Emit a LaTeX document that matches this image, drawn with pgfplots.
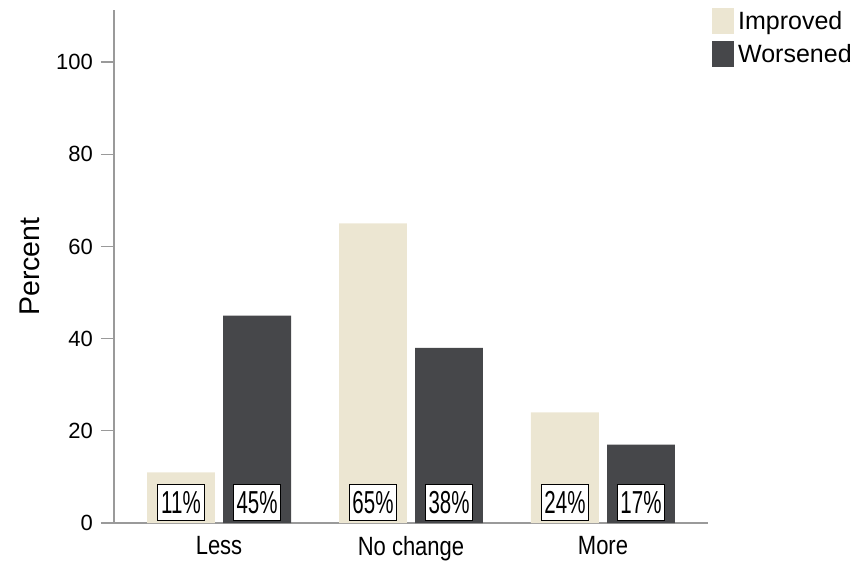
\documentclass[border=0pt]{standalone}
\usepackage{pgfplots}
\pgfplotsset{compat=1.18}
\usepackage{fontspec}
\setmainfont{Liberation Sans}
\definecolor{impr}{HTML}{ECE6D2}
\definecolor{wors}{HTML}{46474A}
\definecolor{axgray}{HTML}{9A9A9A}
\tikzset{boxlab/.style={draw=black, line width=0.8bp, fill=white, text=black, anchor=south, font=\fontsize{20.5bp}{24bp}\selectfont, inner sep=0pt, minimum width=47bp, minimum height=23.2bp, yscale=1.55, yshift=1bp}}
\begin{document}
\begin{tikzpicture}
\path[use as bounding box] (-114bp,-40bp) rectangle (742bp,523bp);
\begin{axis}[
  at={(0,0)}, anchor=south west,
  scale only axis, width=594bp, height=513bp,
  xmin=-0.547, xmax=2.547, ymin=0, ymax=111.3,
  axis lines*=left, axis line style={draw=axgray, line width=1.2bp, -},
  ytick={0,20,...,100}, xtick={0,1,2}, xticklabels={Less, No change, More},
  tick align=outside, major tick length=13bp,
  y tick style={draw=axgray, line width=1.2bp},
  x tick style={draw=none},
  /pgf/number format/assume math mode=true,
  yticklabel style={font=\fontsize{22bp}{26bp}\selectfont, inner sep=0pt, xshift=-8bp, text=black},
  xticklabel style={font=\fontsize{22bp}{26bp}\selectfont, yscale=1.2, inner sep=0pt, text=black},
  ylabel={Percent},
  ylabel style={font=\fontsize{28.5bp}{32bp}\selectfont, at={(axis description cs:-0.1414,0.5)}, anchor=center},
  legend style={at={(axis description cs:1.0067,1.0039)}, anchor=north west, draw=none, fill=none, inner sep=0pt, row sep=7bp, font=\fontsize{25bp}{29bp}\selectfont, nodes={inner sep=0pt}, /tikz/every odd column/.append style={column sep=4bp}},
  legend cell align=left,
  legend image code/.code={\fill[#1] (0bp,-13bp) rectangle (22bp,13bp);},
]
\addplot[ybar, bar width=0.354, bar shift=-0.198, fill=impr, draw=none] coordinates {(0,11) (1,65) (2,24)};
\addlegendentry{Improved}
\addplot[ybar, bar width=0.354, bar shift=0.198, fill=wors, draw=none] coordinates {(0,45) (1,38) (2,17)};
\addlegendentry{Worsened}
\addplot[only marks, mark=none, forget plot, point meta=explicit symbolic, nodes near coords, every node near coord/.style={boxlab}] coordinates {(-0.198,0) [11\%] (0.802,0) [65\%] (1.802,0) [24\%] (0.198,0) [45\%] (1.198,0) [38\%] (2.198,0) [17\%]};
\end{axis}
\end{tikzpicture}
\end{document}
